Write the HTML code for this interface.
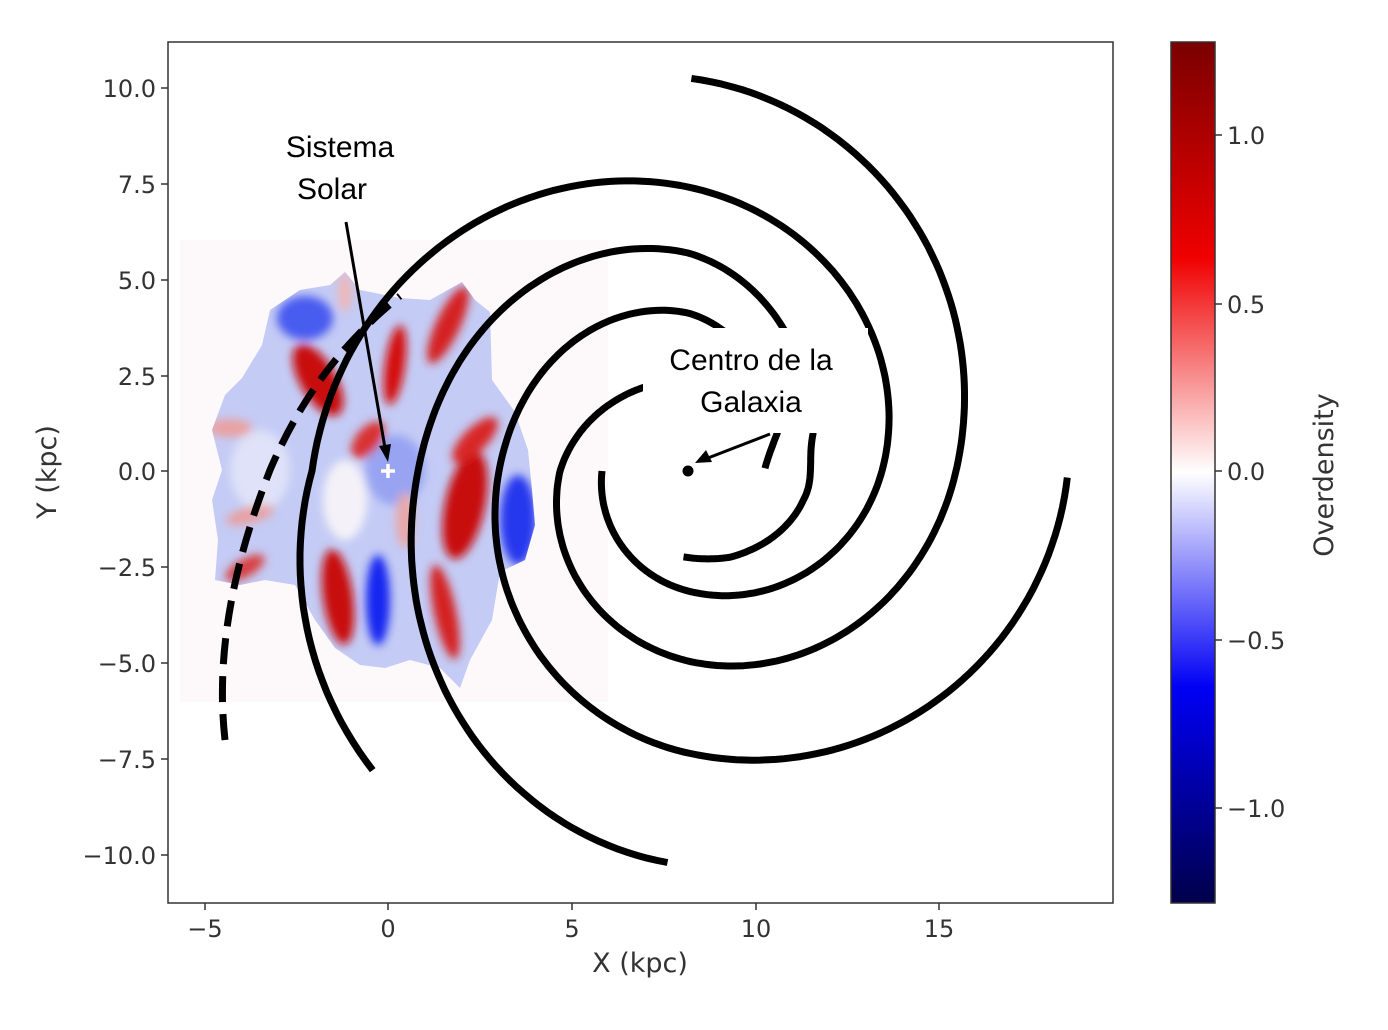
<!DOCTYPE html>
<html><head><meta charset="utf-8"><style>
html,body{margin:0;padding:0;background:#fff;}
svg{display:block;}
</style></head><body>
<svg width="1388" height="1030" viewBox="0 0 1388 1030" xmlns="http://www.w3.org/2000/svg">
<defs>
<filter id="bl" x="-30%" y="-30%" width="160%" height="160%"><feGaussianBlur stdDeviation="4.5"/></filter>
<linearGradient id="cb" x1="0" y1="0" x2="0" y2="1">
<stop offset="0" stop-color="#7a0000"/>
<stop offset="0.25" stop-color="#f00000"/>
<stop offset="0.5" stop-color="#ffffff"/>
<stop offset="0.75" stop-color="#0000f5"/>
<stop offset="1" stop-color="#00004a"/>
</linearGradient>
<clipPath id="blob"><path d="M270,310 L300,290 L330,285 L345,272 L360,290 L400,298 L430,300 L462,282 L475,300 L490,312 L492,380 L515,412 L528,450 L532,490 L535,525 L525,560 L500,572 L492,620 L470,660 L460,688 L440,668 L410,660 L385,668 L360,665 L335,648 L315,620 L295,585 L265,580 L240,585 L215,580 L218,540 L212,500 L222,470 L212,430 L225,395 L242,378 L262,345 Z"/></clipPath>
</defs>
<rect width="1388" height="1030" fill="#fff"/>
<rect x="180" y="240" width="428" height="462" fill="#fdf9fa"/>
<g clip-path="url(#blob)">
<rect x="200" y="260" width="350" height="440" fill="#c4cbf5"/>
<g filter="url(#bl)">
<ellipse cx="305" cy="318" rx="28" ry="22" fill="#4a5cf0"/>
<ellipse cx="518" cy="520" rx="18" ry="45" fill="#2838ee"/>
<ellipse cx="378" cy="600" rx="12" ry="45" fill="#1828f0"/>
<ellipse cx="395" cy="470" rx="30" ry="35" fill="#98a4f2"/>
<ellipse cx="260" cy="470" rx="30" ry="40" fill="#dfe2f8"/>
<ellipse cx="345" cy="500" rx="22" ry="40" fill="#f4f2f8"/>
<ellipse cx="318" cy="380" rx="18" ry="40" transform="rotate(-30 318 380)" fill="#c80808"/>
<ellipse cx="395" cy="365" rx="10" ry="40" transform="rotate(8 395 365)" fill="#d41010"/>
<ellipse cx="448" cy="325" rx="12" ry="42" transform="rotate(25 448 325)" fill="#d42020"/>
<ellipse cx="368" cy="440" rx="12" ry="22" transform="rotate(40 368 440)" fill="#d83030"/>
<ellipse cx="465" cy="505" rx="20" ry="55" transform="rotate(12 465 505)" fill="#c80808"/>
<ellipse cx="475" cy="440" rx="12" ry="30" transform="rotate(45 475 440)" fill="#d82828"/>
<ellipse cx="338" cy="597" rx="15" ry="48" transform="rotate(-8 338 597)" fill="#c81010"/>
<ellipse cx="445" cy="612" rx="11" ry="48" transform="rotate(-12 445 612)" fill="#d42020"/>
<ellipse cx="230" cy="428" rx="22" ry="9" fill="#eaa0a0"/>
<ellipse cx="250" cy="515" rx="25" ry="8" transform="rotate(-15 250 515)" fill="#e8a0a0"/>
<ellipse cx="245" cy="568" rx="22" ry="9" transform="rotate(-30 245 568)" fill="#d84040"/>
<ellipse cx="345" cy="292" rx="7" ry="20" fill="#eeb8b8"/>
<ellipse cx="405" cy="520" rx="9" ry="28" fill="#e8a8a8"/>
</g>
</g>
<g id="arms" fill="none" stroke="#000" stroke-width="7" stroke-linejoin="round">
<path id="aP"/><path id="a4"/><path id="a3"/><path id="a2"/>
<path d="M225,740 C215,650 235,560 270,470 C300,400 340,345 400,296" stroke-dasharray="26,12"/>
</g>
<rect x="643" y="328" width="225" height="105" fill="#fff"/>
<g font-family="'Liberation Sans', sans-serif" font-size="30" fill="#000" text-anchor="middle">
<text x="340" y="157">Sistema</text>
<text x="332" y="199">Solar</text>
<text x="751" y="370">Centro de la</text>
<text x="751" y="412">Galaxia</text>
</g>
<g stroke="#000" stroke-width="3">
<line x1="346" y1="222" x2="385" y2="448"/>
<line x1="770" y1="434" x2="708" y2="458"/>
</g>
<polygon points="388,462 379,446 391,444" fill="#000"/>
<polygon points="695,463 706,450 712,462" fill="#000"/>
<circle cx="688" cy="471" r="5.5" fill="#000"/>
<g stroke="#fff" stroke-width="3.5"><line x1="381" y1="471" x2="395" y2="471"/><line x1="388" y1="464" x2="388" y2="478"/></g>
<rect x="168" y="42" width="945" height="861" fill="none" stroke="#333" stroke-width="1.5"/>
<g stroke="#333" stroke-width="1.5">
<line x1="205" y1="903" x2="205" y2="910"/><line x1="388" y1="903" x2="388" y2="910"/><line x1="572" y1="903" x2="572" y2="910"/><line x1="756" y1="903" x2="756" y2="910"/><line x1="939" y1="903" x2="939" y2="910"/>
<line x1="161" y1="88" x2="168" y2="88"/><line x1="161" y1="184" x2="168" y2="184"/><line x1="161" y1="280" x2="168" y2="280"/><line x1="161" y1="376" x2="168" y2="376"/><line x1="161" y1="471" x2="168" y2="471"/><line x1="161" y1="567" x2="168" y2="567"/><line x1="161" y1="663" x2="168" y2="663"/><line x1="161" y1="759" x2="168" y2="759"/><line x1="161" y1="855" x2="168" y2="855"/>
</g>
<g font-family="'DejaVu Sans', sans-serif" font-size="24" fill="#333">
<g text-anchor="middle">
<text x="205" y="937">−5</text><text x="388" y="937">0</text><text x="572" y="937">5</text><text x="756" y="937">10</text><text x="939" y="937">15</text>
</g>
<g text-anchor="end">
<text x="156" y="97">10.0</text><text x="156" y="193">7.5</text><text x="156" y="289">5.0</text><text x="156" y="385">2.5</text><text x="156" y="480">0.0</text><text x="156" y="576">−2.5</text><text x="156" y="672">−5.0</text><text x="156" y="768">−7.5</text><text x="156" y="864">−10.0</text>
</g>
<text x="640" y="972" text-anchor="middle" font-size="27">X (kpc)</text>
<text transform="translate(56,472) rotate(-90)" text-anchor="middle" font-size="27">Y (kpc)</text>
</g>
<rect x="1171" y="42" width="44" height="861" fill="url(#cb)"/>
<rect x="1171" y="42" width="44" height="861" fill="none" stroke="#333" stroke-width="1.5"/>
<g stroke="#333" stroke-width="1.5">
<line x1="1215" y1="135" x2="1222" y2="135"/><line x1="1215" y1="304" x2="1222" y2="304"/><line x1="1215" y1="471" x2="1222" y2="471"/><line x1="1215" y1="640" x2="1222" y2="640"/><line x1="1215" y1="808" x2="1222" y2="808"/>
</g>
<g font-family="'DejaVu Sans', sans-serif" font-size="24" fill="#333">
<text x="1227" y="144">1.0</text><text x="1227" y="313">0.5</text><text x="1227" y="480">0.0</text><text x="1227" y="649">−0.5</text><text x="1227" y="817">−1.0</text>
<text transform="translate(1333,475) rotate(-90)" text-anchor="middle" font-size="27">Overdensity</text>
</g>
</svg>
<script>
(function(){
var cx=688,cy=471;
function arm(id,th,r){
  var pts=[],n=th.length,lr=r.map(Math.log);
  var t0=th[0],t1=th[n-1],dir=t1<t0?-1:1;
  for(var t=t0;dir*(t1-t)>=-0.001;t+=dir*1.5){
    var i=0;while(i<n-2&&dir*(t-th[i+1])>0)i++;
    var u=(t-th[i])/(th[i+1]-th[i]);
    var p0=lr[Math.max(i-1,0)],p1=lr[i],p2=lr[i+1],p3=lr[Math.min(i+2,n-1)];
    var v=0.5*((2*p1)+(-p0+p2)*u+(2*p0-5*p1+4*p2-p3)*u*u+(-p0+3*p1-3*p2+p3)*u*u*u);
    var rr=Math.exp(v),a=t*Math.PI/180;
    pts.push((cx+rr*Math.cos(a)).toFixed(1)+","+(cy+rr*Math.sin(a)).toFixed(1));
  }
  document.getElementById(id).setAttribute("d","M"+pts.join(" L"));
}
arm("aP",[180,90,0,-90,-180,-224],[86,120,194,284,376,435]);
arm("a4",[245,180,90,0,-90],[94,128,190,268,393]);
arm("a3",[358,337,270,180,90,0],[77,97,158,189,282,380]);
arm("a2",[93,64,14,-17,-90,-180,-267],[86,96,119,131,218,270,392]);
})();
</script>
</body></html>
